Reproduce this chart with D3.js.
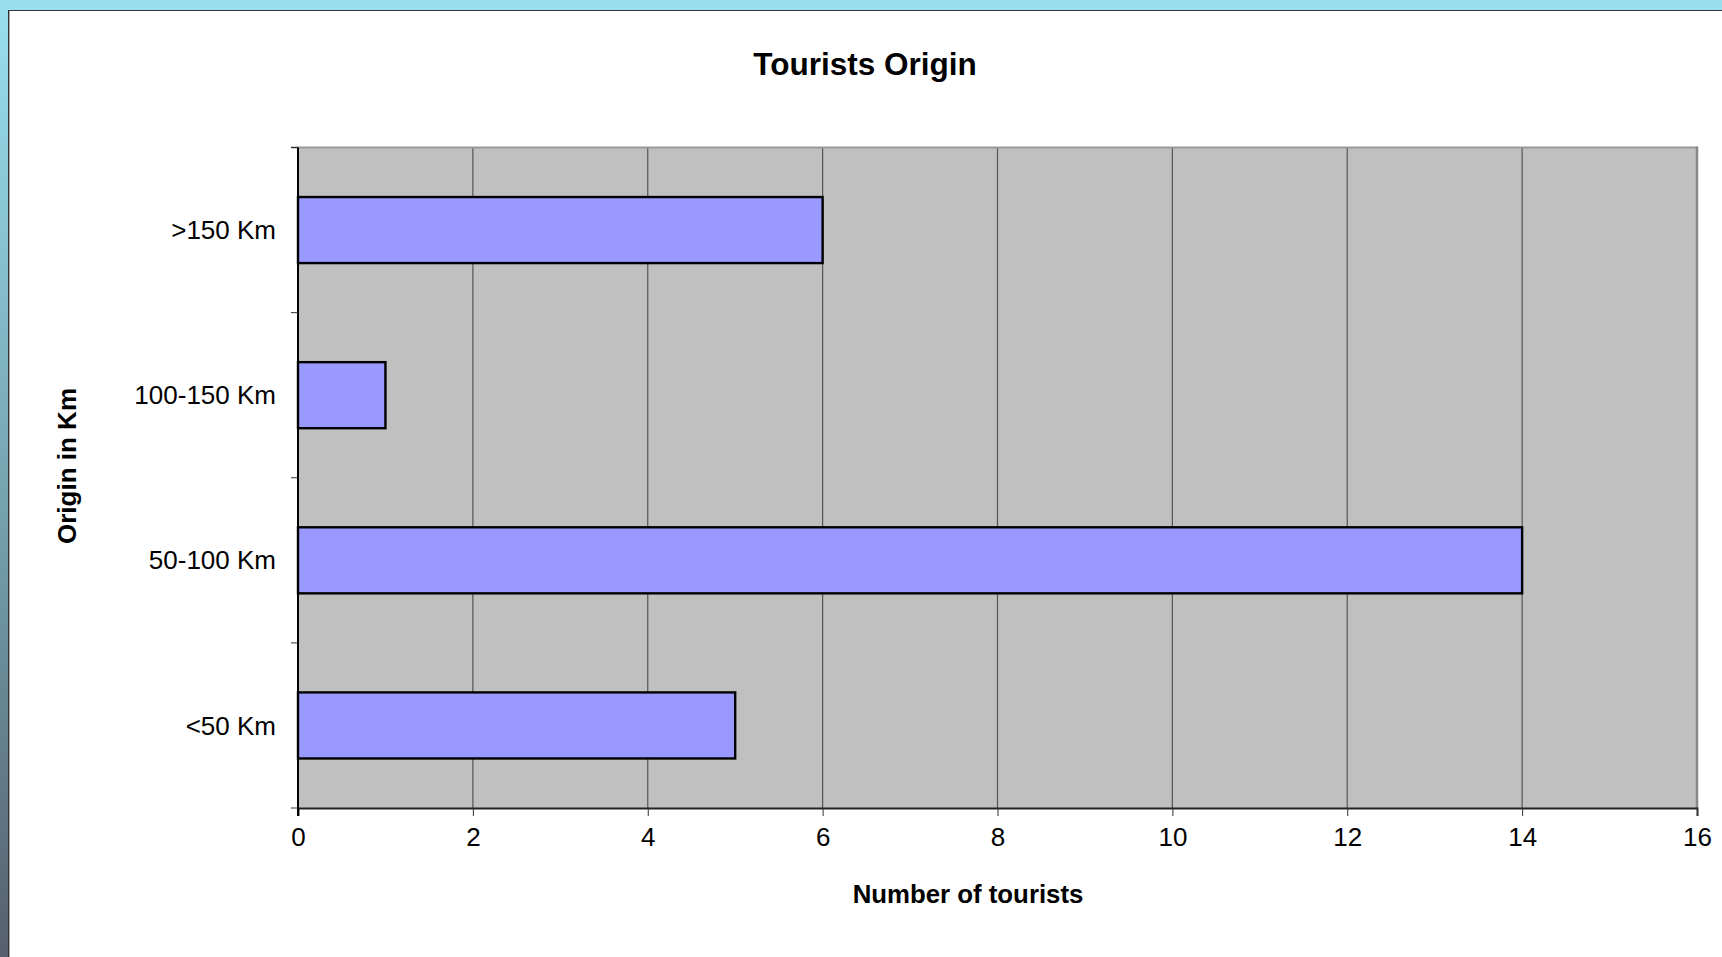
<!DOCTYPE html>
<html>
<head>
<meta charset="utf-8">
<script src="https://cdn.jsdelivr.net/npm/d3@7"></script>
<style>
  html, body { margin: 0; padding: 0; background: #fff; }
  svg { display: block; font-family: "Liberation Sans", Arial, sans-serif; }
</style>
</head>
<body>
<div id="chart-area"></div>
<script>
const categories = [">150 Km", "100-150 Km", "50-100 Km", "<50 Km"];
const tourists = [6, 1, 14, 5];
const xTicks = [0, 2, 4, 6, 8, 10, 12, 14, 16];

const width = 1722;
const height = 957;
const plot = { left: 298, right: 1697, top: 147.5, bottom: 808 };

const svg = d3.select("#chart-area")
  .append("svg")
  .attr("width", width)
  .attr("height", height);

// slide frame: blue strip on top, gradient strip on the left
const grad = svg.append("defs").append("linearGradient")
  .attr("id", "side").attr("x1", 0).attr("y1", 0).attr("x2", 0).attr("y2", 1);
grad.append("stop").attr("offset", "0%").attr("stop-color", "#9adfee");
grad.append("stop").attr("offset", "55%").attr("stop-color", "#73a0ac");
grad.append("stop").attr("offset", "100%").attr("stop-color", "#565f6f");

svg.append("rect").attr("x", 0).attr("y", 0).attr("width", 8).attr("height", height).attr("fill", "url(#side)");
svg.append("rect").attr("x", 0).attr("y", 0).attr("width", width).attr("height", 10).attr("fill", "#9adfee");
svg.append("line").attr("x1", 8).attr("x2", width).attr("y1", 10.5).attr("y2", 10.5).attr("stroke", "#333").attr("stroke-width", 1);
svg.append("line").attr("x1", 8.5).attr("x2", 8.5).attr("y1", 10).attr("y2", height).attr("stroke", "#333").attr("stroke-width", 1);
svg.append("line").attr("x1", 9.5).attr("x2", 9.5).attr("y1", 11).attr("y2", height).attr("stroke", "#aaa").attr("stroke-width", 1);

const x = d3.scaleLinear()
  .domain([0, 16])
  .range([plot.left, plot.right]);

const y = d3.scaleBand()
  .domain(categories)
  .range([plot.top, plot.bottom])
  .paddingInner(0.6)
  .paddingOuter(0.3);

// plot background
svg.append("rect")
  .attr("x", plot.left).attr("y", plot.top)
  .attr("width", plot.right - plot.left).attr("height", plot.bottom - plot.top)
  .attr("fill", "#c0c0c0");

// gridlines
svg.append("g")
  .selectAll("line")
  .data(xTicks.slice(1, -1))
  .enter()
  .append("line")
  .attr("x1", d => x(d)).attr("x2", d => x(d))
  .attr("y1", plot.top).attr("y2", plot.bottom)
  .attr("stroke", "#555").attr("stroke-width", 1.2);

// plot border top/right
svg.append("line").attr("x1", plot.left - 7).attr("x2", plot.right).attr("y1", plot.top).attr("y2", plot.top)
  .attr("stroke", "#999").attr("stroke-width", 2);
svg.append("line").attr("x1", plot.right).attr("x2", plot.right).attr("y1", plot.top - 1).attr("y2", plot.bottom)
  .attr("stroke", "#888").attr("stroke-width", 2.5);

// bars
svg.append("g")
  .selectAll("rect")
  .data(categories)
  .enter()
  .append("rect")
  .attr("x", x(0))
  .attr("y", d => y(d))
  .attr("width", (d, i) => x(tourists[i]) - x(0))
  .attr("height", y.bandwidth())
  .attr("fill", "#9999ff")
  .attr("stroke", "#000")
  .attr("stroke-width", 2.4);

// x axis
const xAxis = svg.append("g")
  .attr("transform", `translate(0,${plot.bottom})`)
  .call(d3.axisBottom(x).tickValues(xTicks).tickSize(8).tickPadding(12).tickFormat(d3.format("d")));
xAxis.select(".domain").attr("stroke", "#222").attr("stroke-width", 2);
xAxis.selectAll(".tick line").attr("stroke", "#333");
xAxis.selectAll("text")
  .style("font-size", "26px")
  .style("font-family", "Liberation Sans, Arial, sans-serif")
  .attr("fill", "#000");

// y axis: ticks sit on category boundaries
const yLeft = svg.append("g");
yLeft.append("line")
  .attr("x1", plot.left).attr("x2", plot.left)
  .attr("y1", plot.top).attr("y2", plot.bottom + 8)
  .attr("stroke", "#000").attr("stroke-width", 2);
const step = y.step();
yLeft.selectAll(".ytick")
  .data(d3.range(categories.length + 1))
  .enter()
  .append("line")
  .attr("class", "ytick")
  .attr("x1", plot.left - 7).attr("x2", plot.left)
  .attr("y1", i => plot.top + i * step).attr("y2", i => plot.top + i * step)
  .attr("stroke", "#333").attr("stroke-width", 1);
yLeft.selectAll("text")
  .data(categories)
  .enter()
  .append("text")
  .attr("x", 276)
  .attr("y", d => y(d) + y.bandwidth() / 2)
  .attr("dy", "0.35em")
  .attr("text-anchor", "end")
  .style("font-size", "26px")
  .text(d => d);

// titles
svg.append("text")
  .attr("x", 865).attr("y", 75)
  .attr("text-anchor", "middle")
  .style("font-size", "31.5px").style("font-weight", "bold")
  .text("Tourists Origin");

svg.append("text")
  .attr("x", 968).attr("y", 903)
  .attr("text-anchor", "middle")
  .style("font-size", "25.8px").style("font-weight", "bold")
  .text("Number of tourists");

svg.append("text")
  .attr("transform", "translate(76,466) rotate(-90)")
  .attr("text-anchor", "middle")
  .style("font-size", "26px").style("font-weight", "bold")
  .text("Origin in Km");
</script>
</body>
</html>
